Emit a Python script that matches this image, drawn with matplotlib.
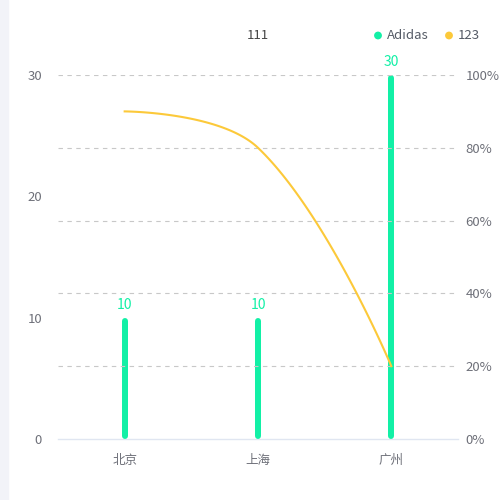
import matplotlib
matplotlib.use("Agg")
import matplotlib.pyplot as plt
import numpy as np
from matplotlib.patches import Rectangle, Circle

plt.rcParams['font.family'] = ['Noto Sans CJK SC', 'DejaVu Sans']

categories = ['北京', '上海', '广州']
bar_values = [10, 10, 30]
line_values = [90, 80, 20]
left_ticks = [0, 10, 20, 30]
right_ticks = [0, 20, 40, 60, 80, 100]
title = '111'
bar_name = 'Adidas'
line_name = '123'

BAR_COLOR = '#12f0a6'
LINE_COLOR = '#fcc93a'
LABEL_COLOR = '#6e7079'

W, H = 500, 500
fig = plt.figure(figsize=(5, 5), dpi=100)
fig.patches.append(Rectangle((0, 0), 8 / W, 1, transform=fig.transFigure,
                             color='#f2f3f8', zorder=0))

x0, x1, ytop, ybot = 58, 458, 75, 439
ax = fig.add_axes([x0 / W, 1 - ybot / H, (x1 - x0) / W, (ybot - ytop) / H])
ax2 = ax.twinx()
n = len(categories)
ax.set_xlim(-0.5, n - 0.5)
ax.set_ylim(0, 30)
ax2.set_ylim(0, 100)
for a in (ax, ax2):
    for s in a.spines.values():
        s.set_visible(False)
    a.patch.set_visible(False)
ax.spines['bottom'].set_visible(True)
ax.spines['bottom'].set_color('#e0e6f1')
ax.spines['bottom'].set_linewidth(1)

ax.set_xticks(range(n))
ax.set_xticklabels(categories, color=LABEL_COLOR, fontsize=9)
ax.tick_params(axis='x', length=0, pad=11)
ax.set_yticks(left_ticks)
ax.set_yticklabels([str(t) for t in left_ticks], color=LABEL_COLOR, fontsize=9.5)
ax.tick_params(axis='y', length=0, pad=11.5)
ax2.set_yticks(right_ticks)
ax2.set_yticklabels([f'{t}%' for t in right_ticks], color=LABEL_COLOR, fontsize=9.5)
ax2.tick_params(axis='y', length=0, pad=5.5)

# dashed grid at right axis ticks
for t in right_ticks[1:]:
    ax2.axhline(t, color='#c8c8c8', lw=0.8, ls=(0, (4, 4)), zorder=1)

fig.canvas.draw()
td = ax.transData
tinv = td.inverted()
px = 72 / 100
bw = 6
for i, v in enumerate(bar_values):
    p0 = td.transform((i, 0))
    p1 = td.transform((i, v))
    a = tinv.transform((p0[0], p0[1] + bw / 2))
    b = tinv.transform((p1[0], p1[1] - bw / 2))
    ax.plot([a[0], b[0]], [a[1], b[1]], color=BAR_COLOR, lw=bw * px,
            solid_capstyle='round', zorder=3)
    ax.annotate(str(v), (i, v), xytext=(0, 4), textcoords='offset points',
                ha='center', va='bottom', color=BAR_COLOR, fontsize=10)

# smooth line (echarts-style bezier) in display coords
t2 = ax2.transData
pts = np.array([t2.transform((i, v)) for i, v in enumerate(line_values)])
smooth = 0.4
cps = []
for i in range(len(pts)):
    if i == 0 or i == len(pts) - 1:
        cps.append((pts[i], pts[i]))
        continue
    prev, cur, nxt = pts[i - 1], pts[i], pts[i + 1]
    v = nxt - prev
    d0 = np.linalg.norm(cur - prev)
    d1 = np.linalg.norm(nxt - cur)
    s = d0 + d1
    cps.append((cur - v * smooth * d0 / s, cur + v * smooth * d1 / s))
curve = []
tt = np.linspace(0, 1, 60)[:, None]
for i in range(len(pts) - 1):
    P0 = pts[i]; P1 = cps[i][1]; P2 = cps[i + 1][0]; P3 = pts[i + 1]
    seg = ((1 - tt) ** 3) * P0 + 3 * ((1 - tt) ** 2) * tt * P1 + 3 * (1 - tt) * tt ** 2 * P2 + tt ** 3 * P3
    curve.append(seg)
curve = np.vstack(curve)
curve_d = t2.inverted().transform(curve)
ax2.plot(curve_d[:, 0], curve_d[:, 1], color=LINE_COLOR, lw=1.5, zorder=4)

# title and legend
fig.text(258 / W, 1 - 35 / H, title, ha='center', va='center', color='#464646', fontsize=9.5)
fig.patches.append(Circle((378 / W, 1 - 35.5 / H), 3.2 / W, transform=fig.transFigure,
                          color=BAR_COLOR))
fig.text(387 / W, 1 - 35 / H, bar_name, ha='left', va='center', color='#555b66', fontsize=9.5)
fig.patches.append(Circle((449 / W, 1 - 35.5 / H), 3.2 / W, transform=fig.transFigure,
                          color=LINE_COLOR))
fig.text(458 / W, 1 - 35 / H, line_name, ha='left', va='center', color='#555b66', fontsize=9.5)

fig.savefig('out.png', dpi=100)
